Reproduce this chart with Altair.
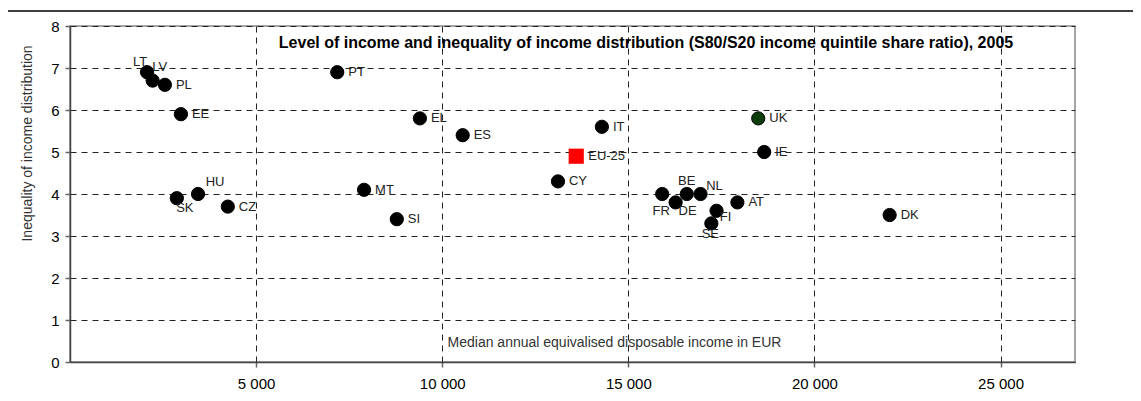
import altair as alt
import pandas as pd

# ---- data ----
countries = ["LT", "LV", "PL", "EE", "SK", "HU", "CZ", "PT", "MT", "SI", "EL", "ES",
             "CY", "IT", "FR", "DE", "BE", "NL", "FI", "SE", "AT", "UK", "IE", "DK"]
income = [2070, 2220, 2550, 2980, 2870, 3440, 4240, 7180, 7900, 8780, 9400, 10550,
          13110, 14290, 15910, 16270, 16570, 16940, 17370, 17230, 17930, 18490, 18650, 22020]
inequality = [6.9, 6.7, 6.6, 5.9, 3.9, 4.0, 3.7, 6.9, 4.1, 3.4, 5.8, 5.4,
              4.3, 5.6, 4.0, 3.8, 4.0, 4.0, 3.6, 3.3, 3.8, 5.8, 5.0, 3.5]

eu_label = ["EU-25"]
eu_income = [13600]
eu_inequality = [4.9]

x_ticks = [5000, 10000, 15000, 20000, 25000]
y_ticks = [0, 1, 2, 3, 4, 5, 6, 7, 8]

title_text = "Level of income and inequality of income distribution (S80/S20 income quintile share ratio), 2005"
x_title = "Median annual equivalised disposable income in EUR"
y_title = "Inequality of income distribution"

# label placement style per country (default: to the right of the point)
placement = {"LT": "lt", "LV": "lv", "SK": "sk", "HU": "hu", "FR": "fr", "DE": "de",
             "BE": "be", "NL": "nl", "FI": "fi", "SE": "se"}
placement_style = {
    "right": dict(align="left", dx=11, dy=0),
    "lt": dict(align="center", dx=-7, dy=-10),
    "lv": dict(align="center", dx=7, dy=-14),
    "sk": dict(align="center", dx=8, dy=10),
    "hu": dict(align="center", dx=17, dy=-12),
    "fr": dict(align="center", dx=-1, dy=17),
    "de": dict(align="center", dx=12, dy=9),
    "be": dict(align="center", dx=0, dy=-13),
    "nl": dict(align="center", dx=14, dy=-8),
    "fi": dict(align="center", dx=9, dy=6),
    "se": dict(align="center", dx=-1, dy=11),
}

df = pd.DataFrame({"country": countries, "income": income, "ineq": inequality})
df["place"] = [placement.get(c, "right") for c in countries]
df["fill"] = ["UK" if c == "UK" else "other" for c in countries]
eu = pd.DataFrame({"country": eu_label, "income": eu_income, "ineq": eu_inequality})

FONT = "Liberation Sans, Arial, sans-serif"

xscale = alt.Scale(domain=[0, 27000], nice=False, zero=True)
yscale = alt.Scale(domain=[0, 8], nice=False)

xenc = alt.X("income:Q", scale=xscale,
             axis=alt.Axis(values=x_ticks, title=x_title,
                           labelExpr="replace(format(datum.value, ','), ',', ' ')",
                           titleX=544, titleY=-20, titleBaseline="middle",
                           titleFont=FONT, titleFontSize=14, titleFontWeight="normal",
                           titleColor="#333"))
yenc = alt.Y("ineq:Q", scale=yscale,
             axis=alt.Axis(values=y_ticks, title=y_title, titleX=-43, titleY=117,
                           titleAlign="center", titleBaseline="middle", titleAngle=-90,
                           titleFont=FONT, titleFontSize=14, titleFontWeight="normal",
                           titleColor="#333"))

base = alt.Chart(df)

points = base.mark_point(filled=True, shape="circle", size=175, stroke="black",
                         strokeWidth=1, opacity=1).encode(
    x=xenc, y=yenc,
    fill=alt.Fill("fill:N", scale=alt.Scale(domain=["other", "UK"],
                                            range=["black", "#0b3d0b"]), legend=None),
)

eu_mark = alt.Chart(eu).mark_square(size=230, color="#ff0000", opacity=1, filled=True).encode(
    x=alt.X("income:Q", scale=xscale), y=alt.Y("ineq:Q", scale=yscale))
eu_text = alt.Chart(eu).mark_text(align="left", dx=12, fontSize=13, font=FONT,
                                  color="#222").encode(
    x=alt.X("income:Q", scale=xscale), y=alt.Y("ineq:Q", scale=yscale), text="country:N")

label_layers = []
for name, st in placement_style.items():
    label_layers.append(
        base.transform_filter(alt.datum.place == name).mark_text(
            fontSize=13, font=FONT, color="#222", baseline="middle", **st).encode(
            x=alt.X("income:Q", scale=xscale), y=alt.Y("ineq:Q", scale=yscale),
            text="country:N"))

title_layer = alt.Chart(pd.DataFrame({"t": [title_text]})).mark_text(
    font=FONT, fontSize=16, fontWeight="bold", color="black",
    align="center", baseline="middle").encode(
    x=alt.value(576), y=alt.value(17), text="t:N")

frame = alt.Chart(pd.DataFrame({"a": [0]})).mark_rect(
    fill=None, stroke="black", strokeWidth=1.5).encode(
    x=alt.value(-63), x2=alt.value(1200), y=alt.value(-15), y2=alt.value(600))

chart = alt.layer(frame, points, eu_mark, eu_text, *label_layers, title_layer).properties(
    width=1005, height=336,
    autosize=alt.AutoSizeParams(type="none"),
    padding={"left": 62, "top": 18, "right": 58, "bottom": 40},
).configure_view(
    stroke="#888", strokeWidth=1.5
).configure_axis(
    grid=True, gridColor="#222", gridDash=[6, 5], gridWidth=1, gridOpacity=1,
    domainColor="#444", domainWidth=1.5, tickColor="#666", tickSize=5, tickWidth=1.5,
    labelFont=FONT, labelColor="black", labelPadding=4,
).configure_axisX(
    labelFontSize=15, labelPadding=9,
).configure_axisY(
    labelFontSize=15, labelPadding=6,
)

chart.save("out.html", embed_options={"renderer": "svg", "actions": False})
